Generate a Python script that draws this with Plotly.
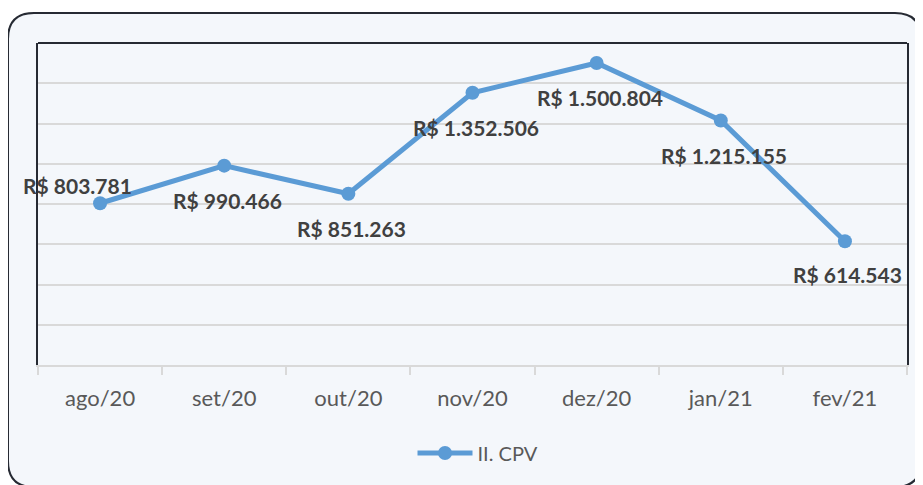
import plotly.graph_objects as go

categories = ["ago/20", "set/20", "out/20", "nov/20", "dez/20", "jan/21", "fev/21"]
values = [803781, 990466, 851263, 1352506, 1500804, 1215155, 614543]
labels = ["R$ 803.781", "R$ 990.466", "R$ 851.263", "R$ 1.352.506",
          "R$ 1.500.804", "R$ 1.215.155", "R$ 614.543"]
label_shift_x = [-23, 3, 3, 3, 3, 3, 3]
label_shift_y = [18, -35, -35, -35, -35, -35, -33]
series_name = "II. CPV"

# page has an 8px body margin, so the figure starts at (8, 8)
OFF = 8
W, H = 923 - OFF, 485 - OFF
ML, MR, MT, MB = 38 - OFF, 16, 43 - OFF, 120
PW, PH = W - ML - MR, H - MT - MB

def px(x, y):
    # page pixel -> paper coords
    x -= OFF
    y -= OFF
    return ((x - ML) / PW, 1 - (y - MT) / PH)

def rounded_path(x0, y0, x1, y1, r):
    def P(x, y):
        a, b = px(x, y)
        return f"{a:.5f},{b:.5f}"
    return (f"M {P(x0 + r, y0)} L {P(x1 - r, y0)} Q {P(x1, y0)} {P(x1, y0 + r)} "
            f"L {P(x1, y1 - r)} Q {P(x1, y1)} {P(x1 - r, y1)} "
            f"L {P(x0 + r, y1)} Q {P(x0, y1)} {P(x0, y1 - r)} "
            f"L {P(x0, y0 + r)} Q {P(x0, y0)} {P(x0 + r, y0)} Z")

BG = "#F4F7FB"
fig = go.Figure()
fig.add_trace(go.Scatter(
    x=categories, y=values, mode="lines+markers", name=series_name,
    line=dict(color="#5B9BD5", width=5),
    marker=dict(color="#5B9BD5", size=14),
))

annotations = []
for c, v, t, dx, dy in zip(categories, values, labels, label_shift_x, label_shift_y):
    annotations.append(dict(x=c, y=v, text=t, showarrow=False, xshift=dx, yshift=dy,
                            font=dict(family="Lato", size=21, color="#404040", weight="bold")))

fig.update_layout(
    width=W, height=H,
    margin=dict(l=ML, r=MR, t=MT, b=MB),
    paper_bgcolor="white",
    plot_bgcolor=BG,
    showlegend=True,
    legend=dict(orientation="h", x=px(478, 0)[0], xanchor="center", y=px(0, 453)[1], yanchor="middle",
                itemwidth=55,
                font=dict(family="Lato", size=20, color="#595959"), bgcolor="rgba(0,0,0,0)"),
    annotations=annotations,
    shapes=[
        dict(type="path", xref="paper", yref="paper", path=rounded_path(8, 13, 921, 487, 26),
             line=dict(color="#262A33", width=2), fillcolor=BG, layer="below"),
        dict(type="line", xref="paper", yref="paper", x0=0, x1=1, y0=1, y1=1,
             line=dict(color="#262A33", width=2)),
    ],
    xaxis=dict(type="category", showgrid=False, showline=True, linecolor="#D9D9D9", linewidth=2,
               ticks="outside", tickson="boundaries", ticklen=8, tickcolor="#D9D9D9", tickwidth=1.5,
               ticklabelstandoff=13,
               tickfont=dict(family="Lato", size=22, color="#595959"), range=[-0.5, 6.5],
               fixedrange=True),
    yaxis=dict(range=[0, 1600000], dtick=200000, showticklabels=False, showgrid=True,
               gridcolor="#D9D9D9", gridwidth=1.5, zeroline=False,
               showline=True, mirror=True, linecolor="#262A33", linewidth=2, fixedrange=True),
)

fig.write_html("out.html")
